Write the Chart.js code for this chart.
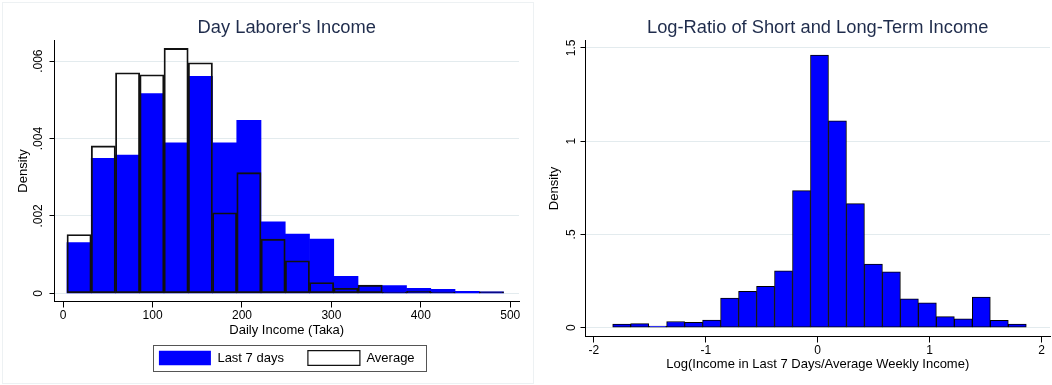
<!DOCTYPE html>
<html>
<head>
<meta charset="utf-8">
<script src="https://cdn.jsdelivr.net/npm/chart.js@4.4.1/dist/chart.umd.min.js"></script>
<style>
  html, body { margin: 0; padding: 0; background: #fff; }
  #wrap { position: relative; width: 1052px; height: 385px; overflow: hidden; }
  #frame { position: absolute; left: 2px; top: 2px; width: 530px; height: 380px; border: 1px solid #edf1f3; }
  canvas { position: absolute; top: 0; }
  #incomeChart { left: 0; }
  #ratioChart { left: 530px; }
</style>
</head>
<body>
<div id="wrap">
  <div id="frame"></div>
  <canvas id="incomeChart" width="530" height="385"></canvas>
  <canvas id="ratioChart" width="522" height="385"></canvas>
</div>
<script>
// Left panel: daily income histogram, bin centres in Taka
const incomeBins = [17.81, 44.94, 72.06, 99.19, 126.31, 153.44, 180.56, 207.69, 234.81,
                    261.94, 289.06, 316.19, 343.31, 370.44, 397.56, 424.69, 451.81, 478.94];
const last7Days = [0.00131, 0.00349, 0.00357, 0.00516, 0.00389, 0.00561, 0.00389, 0.00447, 0.00185,
                   0.00153, 0.00140, 0.00044, 0.00019, 0.00020, 0.00013, 0.00010, 0.00005, 0.00004];
const averageIncome = [0.00152, 0.00381, 0.00570, 0.00565, 0.00633, 0.00596, 0.00208, 0.00312, 0.00140,
                       0.00084, 0.00028, 0.00013, 0.00021, 0.00003, 0.00005, 0.00003, 0, 0.00004];
const incomeTicks = [0, 100, 200, 300, 400, 500];
const incomeTickLabels = ['0', '100', '200', '300', '400', '500'];
const densityTicks = [0, 0.002, 0.004, 0.006];
const densityTickLabels = ['0', '.002', '.004', '.006'];

// Right panel: log-ratio histogram, bin centres
const ratioBins = [-1.7517, -1.5910, -1.4303, -1.2696, -1.1089, -0.9482, -0.7875, -0.6268,
                   -0.4661, -0.3054, -0.1447, 0.0160, 0.1767, 0.3374, 0.4981, 0.6588,
                   0.8195, 0.9802, 1.1409, 1.3016, 1.4623, 1.6230, 1.7837];
const ratioDensity = [0.019, 0.022, 0.009, 0.033, 0.029, 0.041, 0.159, 0.195,
                      0.222, 0.305, 0.735, 1.462, 1.109, 0.665, 0.341, 0.300,
                      0.155, 0.133, 0.059, 0.047, 0.164, 0.039, 0.019];
const ratioTicks = [-2, -1, 0, 1, 2];
const ratioTickLabels = ['-2', '-1', '0', '1', '2'];
const ratioDensityTicks = [0, 0.5, 1, 1.5];
const ratioDensityLabels = ['0', '.5', '1', '1.5'];

Chart.defaults.font.family = '"Liberation Sans", Arial, Helvetica, sans-serif';
Chart.defaults.color = '#000';
Chart.defaults.animation = false;

const navy = '#1f2c4c';
const gridColor = '#e3ebee';

function bottomAxis(min, max, ticks, labels, title, labelPad, titlePad, height) {
    return {
        type: 'linear', min: min, max: max, offset: false, bounds: 'data',
        afterBuildTicks: s => { s.ticks = ticks.map(v => ({ value: v })); },
        afterFit: s => { s.height = height; },
        grid: { display: true, drawOnChartArea: false, offset: false, tickLength: 6, tickColor: '#000' },
        border: { display: true, color: '#000', width: 1 },
        ticks: { font: { size: 12 }, color: '#000', padding: labelPad, maxRotation: 0, autoSkip: false,
                 callback: (v, i) => labels[i] },
        title: { display: true, text: title, font: { size: 13 }, color: '#000',
                 padding: { top: 0, bottom: titlePad } }
    };
}

function leftAxis(min, max, ticks, labels, labelPad, titlePad, width) {
    return {
        type: 'linear', min: min, max: max, bounds: 'data',
        afterBuildTicks: s => { s.ticks = ticks.map(v => ({ value: v })); },
        afterFit: s => { s.width = width; },
        grid: { color: gridColor, tickLength: 5, tickColor: '#000' },
        border: { display: true, color: '#000', width: 1 },
        ticks: { font: { size: 12 }, color: '#000', padding: labelPad, minRotation: 90, maxRotation: 90,
                 crossAlign: 'center', autoSkip: false, callback: (v, i) => labels[i] },
        title: { display: true, text: 'Density', font: { size: 13 }, color: '#000',
                 padding: { top: titlePad, bottom: 0 } }
    };
}

function chartTitle(text) {
    return { display: true, text: text, fullSize: false, color: navy,
             font: { size: 18.3, weight: 'normal' }, padding: { top: 16.8, bottom: 1.7 } };
}

// Stata draws a thin box round the legend
const legendFrame = {
    id: 'legendFrame',
    afterDraw(chart) {
        const boxes = chart.legend && chart.legend.legendHitBoxes;
        if (!boxes || !boxes.length) return;
        const first = boxes[0], last = boxes[boxes.length - 1];
        const l = Math.round(first.left - 5.5) + 0.5;
        const r = Math.round(last.left + last.width + 11) + 0.5;
        const t = Math.round(first.top - 5.5) + 0.5;
        const b = Math.round(first.top + first.height + 5.5) + 0.5;
        const ctx = chart.ctx;
        ctx.save();
        ctx.strokeStyle = '#555';
        ctx.lineWidth = 1;
        ctx.strokeRect(l, t, r - l, b - t);
        ctx.restore();
    }
};

new Chart(document.getElementById('incomeChart'), {
    type: 'bar',
    data: {
        datasets: [
            {
                label: 'Last 7 days',
                data: incomeBins.map((x, i) => ({ x: x, y: last7Days[i] })),
                backgroundColor: '#0000ff', borderWidth: 0,
                grouped: false, barPercentage: 1, categoryPercentage: 1, order: 1
            },
            {
                label: 'Average',
                data: incomeBins.map((x, i) => ({ x: x, y: averageIncome[i] })),
                backgroundColor: 'rgba(255,255,255,0)', borderColor: '#111', borderWidth: 1.2,
                borderSkipped: false,
                grouped: false, barPercentage: 1, categoryPercentage: 1, order: 0
            }
        ]
    },
    options: {
        responsive: false,
        events: [],
        layout: { padding: { left: 0, right: 11, top: 0, bottom: 9.7 } },
        scales: {
            x: bottomAxis(-9.7, 509.8, incomeTicks, incomeTickLabels, 'Daily Income (Taka)', 0.7, -11.6, 25.2),
            y: leftAxis(-0.000212, 0.006536, densityTicks, densityTickLabels, -1.0, 16, 54.5)
        },
        plugins: {
            title: chartTitle("Day Laborer's Income"),
            legend: {
                position: 'bottom', fullSize: false,
                labels: {
                    font: { size: 13 }, color: '#000', boxWidth: 52, boxHeight: 14.6, padding: 24,
                    sort: (a, b) => a.datasetIndex - b.datasetIndex
                }
            },
            tooltip: { enabled: false }
        }
    },
    plugins: [legendFrame]
});

new Chart(document.getElementById('ratioChart'), {
    type: 'bar',
    data: {
        datasets: [{
            label: 'Density',
            data: ratioBins.map((x, i) => ({ x: x, y: ratioDensity[i] })),
            backgroundColor: '#0000ff', borderColor: '#000', borderWidth: 1, borderSkipped: false,
            barPercentage: 1, categoryPercentage: 1
        }]
    },
    options: {
        responsive: false,
        events: [],
        layout: { padding: { left: 0, right: 2, top: 0, bottom: 0 } },
        scales: {
            x: bottomAxis(-2.075, 2.076, ratioTicks, ratioTickLabels,
                          'Log(Income in Last 7 Days/Average Weekly Income)', 1.3, 12.4, 48.5),
            y: leftAxis(-0.0472, 1.5397, ratioDensityTicks, ratioDensityLabels, 0.7, 16.7, 55.5)
        },
        plugins: {
            title: chartTitle('Log-Ratio of Short and Long-Term Income'),
            legend: { display: false },
            tooltip: { enabled: false }
        }
    }
});
</script>
</body>
</html>
